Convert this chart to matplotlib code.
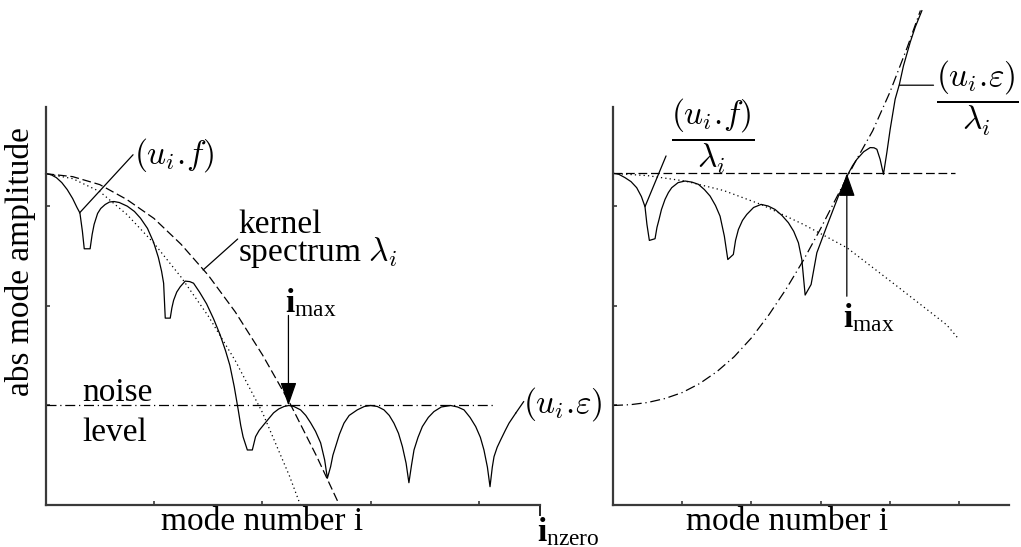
import matplotlib
matplotlib.use('Agg')
import matplotlib.pyplot as plt


# left panel: absolute mode amplitudes
left_solid_x = [0.0, 0.05, 0.10, 0.15, 0.20, 0.25, 0.29, 0.317, 0.34, 0.357,
                0.411, 0.43, 0.448, 0.48, 0.509, 0.55, 0.59, 0.631, 0.68, 0.754,
                0.82, 0.876, 0.94, 0.996, 1.04, 1.07, 1.089, 1.104, 1.150, 1.165,
                1.181, 1.21, 1.242, 1.288, 1.33, 1.365, 1.42, 1.485, 1.55, 1.609,
                1.66, 1.700, 1.74, 1.777, 1.80, 1.822, 1.861, 1.907, 1.937, 1.97,
                2.011, 2.06, 2.103, 2.15, 2.20, 2.244, 2.29, 2.352, 2.40, 2.445,
                2.49, 2.537, 2.574, 2.599, 2.629, 2.65, 2.675, 2.71, 2.752, 2.80,
                2.875, 2.94, 2.998, 3.06, 3.121, 3.17, 3.213, 3.255, 3.291, 3.325,
                3.351, 3.375, 3.398, 3.435, 3.475, 3.53, 3.582, 3.65, 3.736, 3.80,
                3.859, 3.915, 3.967, 4.01, 4.043, 4.075, 4.099, 4.12, 4.136, 4.165,
                4.197, 4.24, 4.274, 4.336]
left_solid_y = [3.33, 3.32, 3.29, 3.24, 3.17, 3.08, 2.99, 2.935, 2.75, 2.575,
                2.575, 2.72, 2.82, 2.93, 2.98, 3.02, 3.045, 3.05, 3.04, 3.003,
                2.95, 2.882, 2.78, 2.642, 2.49, 2.35, 2.229, 1.878, 1.878, 1.98,
                2.057, 2.14, 2.193, 2.25, 2.245, 2.229, 2.14, 2.022, 1.87, 1.713,
                1.55, 1.403, 1.19, 0.956, 0.80, 0.684, 0.553, 0.553, 0.687, 0.75,
                0.805, 0.87, 0.926, 0.965, 0.99, 1.0, 0.99, 0.956, 0.90, 0.825,
                0.74, 0.624, 0.453, 0.269, 0.385, 0.50, 0.587, 0.71, 0.822, 0.90,
                0.956, 0.99, 1.0, 0.99, 0.956, 0.90, 0.822, 0.72, 0.587, 0.42,
                0.224, 0.40, 0.553, 0.68, 0.788, 0.88, 0.939, 0.985, 1.0, 0.985,
                0.956, 0.88, 0.788, 0.68, 0.553, 0.38, 0.184, 0.38, 0.486, 0.58,
                0.654, 0.75, 0.822, 0.923]
signal_x = [0.0, 0.25, 0.5, 0.75, 1.0, 1.25, 1.5, 1.75, 2.0, 2.25, 2.35]
signal_y = [3.33, 3.28, 3.15, 2.92, 2.63, 2.29, 1.90, 1.45, 0.93, 0.29, 0.0]
kernel_x = [0.0, 0.25, 0.5, 0.75, 1.0, 1.25, 1.5, 1.75, 2.0, 2.25, 2.5, 2.71]
kernel_y = [3.33, 3.30, 3.22, 3.07, 2.88, 2.62, 2.31, 1.94, 1.51, 1.03, 0.49, 0.0]
noise_x = [0.0, 4.14]
noise_y = [1.0, 1.0]
left_imax = 2.24

# right panel: amplitudes divided by kernel spectrum
right_solid_x = [0.0, 0.08, 0.173, 0.26, 0.342, 0.41, 0.462, 0.49, 0.525, 0.607,
                 0.635, 0.665, 0.70, 0.751, 0.80, 0.848, 0.94, 1.040, 1.14, 1.233,
                 1.32, 1.402, 1.48, 1.546, 1.608, 1.658, 1.738, 1.77, 1.811, 1.87,
                 1.932, 2.03, 2.139, 2.24, 2.341, 2.44, 2.533, 2.61, 2.678, 2.727,
                 2.775, 2.861, 2.944, 3.088, 3.256, 3.400, 3.46, 3.522, 3.62, 3.714,
                 3.77, 3.811, 3.858, 3.906, 3.955, 4.003, 4.075, 4.137, 4.195, 4.292,
                 4.364, 4.461]
right_solid_y = [3.333, 3.325, 3.29, 3.25, 3.189, 3.10, 2.998, 2.82, 2.659, 2.676,
                 2.79, 2.870, 2.97, 3.071, 3.14, 3.189, 3.24, 3.256, 3.245, 3.223,
                 3.17, 3.105, 3.01, 2.903, 2.702, 2.467, 2.518, 2.66, 2.769, 2.86,
                 2.920, 2.99, 3.021, 3.005, 2.970, 2.91, 2.837, 2.75, 2.635, 2.467,
                 2.110, 2.216, 2.535, 2.803, 3.105, 3.333, 3.41, 3.474, 3.55, 3.592,
                 3.59, 3.575, 3.474, 3.323, 3.542, 3.776, 4.079, 4.230, 4.414, 4.650,
                 4.801, 4.968]
ratio_x = [0.0, 0.5, 1.04, 1.6, 2.14, 2.75, 3.38, 4.1, 4.82, 4.99]
ratio_y = [3.333, 3.31, 3.256, 3.16, 3.02, 2.82, 2.585, 2.20, 1.81, 1.67]
noise_ratio_x = [0.0, 0.25, 0.5, 0.75, 1.0, 1.25, 1.5, 1.75, 2.0, 2.25,
                 2.5, 2.75, 3.0, 3.25, 3.5, 3.75, 4.0, 4.25, 4.44]
noise_ratio_y = [1.0, 1.008, 1.03, 1.07, 1.13, 1.22, 1.34, 1.49, 1.68, 1.91,
                 2.17, 2.46, 2.78, 3.12, 3.45, 3.76, 4.15, 4.60, 4.97]
level_x = [0.0, 4.94]
level_y = [3.333, 3.333]
right_imax = 3.377


plt.rcParams['font.family'] = ['Liberation Serif', 'DejaVu Serif']
plt.rcParams['mathtext.fontset'] = 'custom'
plt.rcParams['mathtext.rm'] = 'Liberation Serif'
plt.rcParams['mathtext.it'] = 'Liberation Serif:italic'
plt.rcParams['mathtext.bf'] = 'Liberation Serif:bold'

FS = 24
LW = 0.9
SPINE = '#3a3a3a'
DASH = (7, 3)
DOT = (1, 2.5)
DASHDOT = (8, 3, 1, 3)


def style_axes(ax, xmax, xticks):
    ax.set_xlim(0, xmax)
    ax.set_ylim(0, 4)
    for side in ('top', 'right'):
        ax.spines[side].set_visible(False)
    for side in ('left', 'bottom'):
        ax.spines[side].set_color(SPINE)
        ax.spines[side].set_linewidth(1.6)
    ax.set_xticks(xticks)
    ax.set_yticks([1, 2, 3])
    ax.tick_params(direction='in', length=3, width=1.2, color=SPINE,
                   labelbottom=False, labelleft=False)


def line(ax, x0, y0, x1, y1):
    ax.annotate('', xy=(x1, y1), xytext=(x0, y0), annotation_clip=False,
                arrowprops=dict(arrowstyle='-', lw=LW, color='k',
                                shrinkA=0, shrinkB=0))


def arrow(ax, x0, y0, x1, y1):
    ax.annotate('', xy=(x1, y1), xytext=(x0, y0), annotation_clip=False,
                arrowprops=dict(arrowstyle='-|>,head_length=0.8,head_width=0.28',
                                mutation_scale=18, lw=LW, color='k', fc='k',
                                shrinkA=0, shrinkB=0))


fig = plt.figure(figsize=(10.21, 5.47), dpi=100)
ax1 = fig.add_axes([0.0446, 0.0768, 0.4843, 0.7276])
ax2 = fig.add_axes([0.6004, 0.0768, 0.3879, 0.7276])

# left panel
style_axes(ax1, 4.56, [1, 2, 3, 4])
ax1.set_xticks([4.56], minor=True)
ax1.tick_params(which='minor', direction='out', length=8, width=1.2, color='k')
ax1.plot(left_solid_x, left_solid_y, color='k', lw=LW, clip_on=False)
ax1.plot(signal_x, signal_y, color='k', lw=LW, dashes=DOT, clip_on=False)
ax1.plot(kernel_x, kernel_y, color='k', lw=LW, dashes=DASH, clip_on=False)
ax1.plot(noise_x, noise_y, color='k', lw=LW, dashes=DASHDOT, clip_on=False)

line(ax1, 0.313, 2.935, 0.807, 3.52)
ax1.text(0.82, 3.52, r'$(u_i.\!f)$', fontsize=FS, math_fontfamily='cm',
         ha='left', va='center')
line(ax1, 1.453, 2.362, 1.772, 2.673)
ax1.text(1.776, 2.36, 'kernel\n' + r'spectrum $\lambda_i$', fontsize=FS,
         math_fontfamily='cm', linespacing=0.8, ha='left', va='bottom')
ax1.text(0.337, 1.045, 'noise', fontsize=FS, ha='left', va='baseline')
ax1.text(0.337, 0.643, 'level', fontsize=FS, ha='left', va='baseline')
arrow(ax1, left_imax, 1.905, left_imax, 1.0)
ax1.text(left_imax - 0.03, 1.94, r'$\mathbf{i}_{\mathrm{max}}$', fontsize=FS,
         ha='left', va='baseline')
line(ax1, 4.336, 0.923, 4.41, 1.04)
ax1.text(4.40, 1.015, r'$(u_i.\!\varepsilon)$', fontsize=FS,
         math_fontfamily='cm', ha='left', va='center')
ax1.text(4.53, -0.36, r'$\mathbf{i}_{\mathrm{nzero}}$', fontsize=FS,
         ha='left', va='baseline')

# right panel
style_axes(ax2, 5.72, [1, 2, 3, 4, 5])
ax2.plot(right_solid_x, right_solid_y, color='k', lw=LW, clip_on=False)
ax2.plot(ratio_x, ratio_y, color='k', lw=LW, dashes=DOT, clip_on=False)
ax2.plot(noise_ratio_x, noise_ratio_y, color='k', lw=LW, dashes=DASHDOT,
         clip_on=False)
ax2.plot(level_x, level_y, color='k', lw=LW, dashes=DASH, clip_on=False)

line(ax2, 0.462, 2.998, 0.766, 3.508)
ax2.text(1.445, 3.706, r'$\dfrac{(u_i.\!f)}{\lambda_i}$', fontsize=FS,
         math_fontfamily='cm', ha='center', va='center')
line(ax2, 4.137, 4.219, 4.629, 4.219)
ax2.text(5.267, 4.088, r'$\dfrac{(u_i.\!\varepsilon)}{\lambda_i}$', fontsize=FS,
         math_fontfamily='cm', ha='center', va='center')
arrow(ax2, right_imax, 2.098, right_imax, 3.333)
ax2.text(right_imax - 0.05, 1.782, r'$\mathbf{i}_{\mathrm{max}}$', fontsize=FS,
         ha='left', va='baseline')

# axis titles
fig.text(262 / 1021, 1 - 522 / 547, 'mode number i', fontsize=FS,
         ha='center', va='center')
fig.text(787 / 1021, 1 - 522 / 547, 'mode number i', fontsize=FS,
         ha='center', va='center')
fig.text(21 / 1021, 1 - 262 / 547, 'abs mode amplitude', fontsize=FS,
         rotation=90, ha='center', va='center')

fig.savefig('out.png', dpi=100)
